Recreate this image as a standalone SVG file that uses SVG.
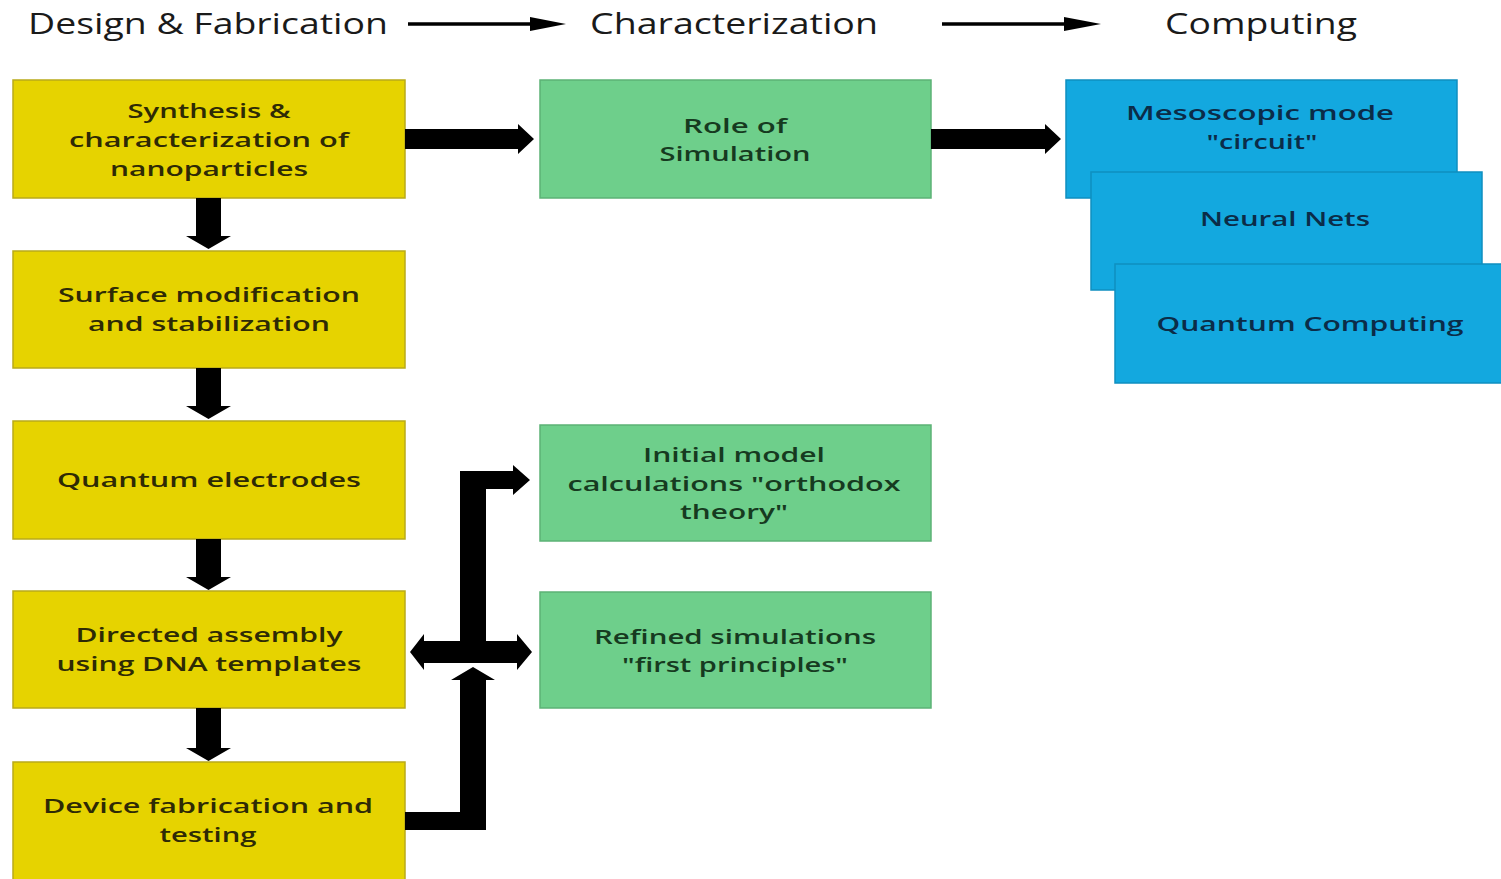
<svg xmlns="http://www.w3.org/2000/svg" width="1501" height="879" viewBox="0 0 1501 879">
<style>
.hdr{font-family:"Open Sans","DejaVu Sans",sans-serif;font-size:29px;fill:#1a1a1a;}
.t{font-family:"Open Sans","DejaVu Sans",sans-serif;font-size:20px;font-weight:600;text-anchor:middle;}
.y rect{fill:#e6d300;stroke:#b9aa1a;stroke-width:1.5;}
.y text{fill:#2e2a05;}
.g rect{fill:#6ecf8b;stroke:#5cb276;stroke-width:1.5;}
.g text{fill:#163a20;}
.b rect{fill:#13a8df;stroke:#0f8fc0;stroke-width:1.5;}
.b text{fill:#0b2c48;}
.ar{fill:#000;}
</style>
<rect x="0" y="0" width="1501" height="879" fill="#fff"/>

<g id="headers">
<text class="hdr" x="28" y="34" textLength="360" lengthAdjust="spacingAndGlyphs">Design &amp; Fabrication</text>
<text class="hdr" x="590" y="34" textLength="288" lengthAdjust="spacingAndGlyphs">Characterization</text>
<text class="hdr" x="1165" y="34" textLength="192" lengthAdjust="spacingAndGlyphs">Computing</text>
</g>

<g id="n-synth" class="y">
<rect x="13" y="80" width="392" height="118"/>
<text class="t" x="209" y="118" textLength="163" lengthAdjust="spacingAndGlyphs">Synthesis &amp;</text>
<text class="t" x="209" y="147" textLength="280" lengthAdjust="spacingAndGlyphs">characterization of</text>
<text class="t" x="209" y="176" textLength="198" lengthAdjust="spacingAndGlyphs">nanoparticles</text>
</g>
<g id="n-surface" class="y">
<rect x="13" y="251" width="392" height="117"/>
<text class="t" x="209" y="302" textLength="302" lengthAdjust="spacingAndGlyphs">Surface modification</text>
<text class="t" x="209" y="331" textLength="242" lengthAdjust="spacingAndGlyphs">and stabilization</text>
</g>
<g id="n-electrodes" class="y">
<rect x="13" y="421" width="392" height="118"/>
<text class="t" x="209" y="487" textLength="304" lengthAdjust="spacingAndGlyphs">Quantum electrodes</text>
</g>
<g id="n-directed" class="y">
<rect x="13" y="591" width="392" height="117"/>
<text class="t" x="209" y="642" textLength="267" lengthAdjust="spacingAndGlyphs">Directed assembly</text>
<text class="t" x="209" y="671" textLength="305" lengthAdjust="spacingAndGlyphs">using DNA templates</text>
</g>
<g id="n-device" class="y">
<rect x="13" y="762" width="392" height="120"/>
<text class="t" x="208" y="813" textLength="330" lengthAdjust="spacingAndGlyphs">Device fabrication and</text>
<text class="t" x="208" y="842" textLength="97" lengthAdjust="spacingAndGlyphs">testing</text>
</g>

<g id="n-role" class="g">
<rect x="540" y="80" width="391" height="118"/>
<text class="t" x="735" y="133" textLength="104" lengthAdjust="spacingAndGlyphs">Role of</text>
<text class="t" x="735" y="161" textLength="151" lengthAdjust="spacingAndGlyphs">Simulation</text>
</g>
<g id="n-initial" class="g">
<rect x="540" y="425" width="391" height="116"/>
<text class="t" x="734" y="462" textLength="182" lengthAdjust="spacingAndGlyphs">Initial model</text>
<text class="t" x="734" y="491" textLength="333" lengthAdjust="spacingAndGlyphs">calculations "orthodox</text>
<text class="t" x="734" y="519" textLength="108" lengthAdjust="spacingAndGlyphs">theory"</text>
</g>
<g id="n-refined" class="g">
<rect x="540" y="592" width="391" height="116"/>
<text class="t" x="735" y="644" textLength="282" lengthAdjust="spacingAndGlyphs">Refined simulations</text>
<text class="t" x="735" y="672" textLength="226" lengthAdjust="spacingAndGlyphs">"first principles"</text>
</g>

<g id="n-meso" class="b">
<rect x="1066" y="80" width="391" height="118"/>
<text class="t" x="1260" y="120" textLength="268" lengthAdjust="spacingAndGlyphs">Mesoscopic mode</text>
<text class="t" x="1262" y="149" textLength="111" lengthAdjust="spacingAndGlyphs">"circuit"</text>
</g>
<g id="n-neural" class="b">
<rect x="1091" y="172" width="391" height="118"/>
<text class="t" x="1285" y="226" textLength="170" lengthAdjust="spacingAndGlyphs">Neural Nets</text>
</g>
<g id="n-quantum" class="b">
<rect x="1115" y="264" width="395" height="119"/>
<text class="t" x="1310" y="331" textLength="307" lengthAdjust="spacingAndGlyphs">Quantum Computing</text>
</g>

<g id="connectors">
<line x1="408" y1="24" x2="534" y2="24" stroke="#000" stroke-width="3.5"/>
<polygon class="ar" points="530,17 566,24 530,31"/>
<line x1="942" y1="24" x2="1068" y2="24" stroke="#000" stroke-width="3.5"/>
<polygon class="ar" points="1064,17 1101,24 1064,31"/>

<polygon class="ar" points="196,198 221,198 221,236 231,236 208.5,249 186,236 196,236"/>
<polygon class="ar" points="196,368 221,368 221,406 231,406 208.5,419 186,406 196,406"/>
<polygon class="ar" points="196,539 221,539 221,577 231,577 208.5,590 186,577 196,577"/>
<polygon class="ar" points="196,708 221,708 221,748 231,748 208.5,761 186,748 196,748"/>

<polygon class="ar" points="405,129 518,129 518,124 534,139 518,154 518,149 405,149"/>
<polygon class="ar" points="931,129 1045,129 1045,124 1061,139 1045,154 1045,149 931,149"/>

<polygon class="ar" points="405,812 460,812 460,680 451,680 473,667 495,680 486,680 486,830 405,830"/>
<polygon class="ar" points="410,652 424,634 424,641 517,641 517,634 532,652 517,670 517,663 424,663 424,670"/>
<polygon class="ar" points="460,641 460,471 513,471 513,465 530,480 513,495 513,489 486,489 486,641"/>
</g>
</svg>
